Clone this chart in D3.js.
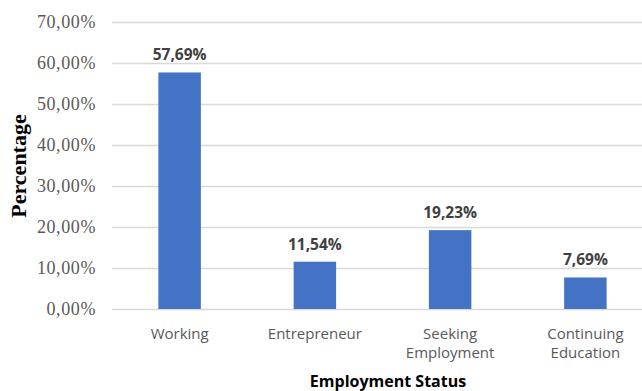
<!DOCTYPE html>
<html>
<head>
<meta charset="utf-8">
<script src="https://cdn.jsdelivr.net/npm/d3@7"></script>
<style>
  body { margin: 0; background: #fff; }
  svg { display: block; }
</style>
</head>
<body>
<div id="chart"></div>
<script>
  // data
  const categories = ["Working", "Entrepreneur", "Seeking Employment", "Continuing Education"];
  const values = [0.5769, 0.1154, 0.1923, 0.0769];
  const yTicks = [0, 0.1, 0.2, 0.3, 0.4, 0.5, 0.6, 0.7];

  const W = 642, H = 391;
  // plot area runs past the right edge, like the cropped original
  const margin = { top: 22, left: 112, bottom: 82 };
  const plotRight = 653;
  const plotBottom = H - margin.bottom; // 309

  const locale = d3.formatLocale({ decimal: ",", thousands: ".", grouping: [3], currency: ["", ""] });
  const pct = locale.format(".2%");

  const svg = d3.select("#chart").append("svg")
    .attr("width", W)
    .attr("height", H);

  const x = d3.scaleBand()
    .domain(categories)
    .range([margin.left, plotRight])
    .paddingInner(0.686)
    .paddingOuter(0.343);

  const y = d3.scaleLinear()
    .domain([0, 0.7])
    .range([plotBottom, margin.top]);

  // Y axis with gridlines
  const yAxisG = svg.append("g")
    .attr("transform", `translate(${margin.left},0)`)
    .call(d3.axisLeft(y).tickValues(yTicks).tickFormat(pct).tickSize(-(plotRight - margin.left)).tickPadding(16));

  yAxisG.select(".domain").remove();
  yAxisG.selectAll(".tick line").attr("stroke", "#d9d9d9").attr("stroke-width", 1.3);
  yAxisG.selectAll(".tick text")
    .attr("fill", "#595959")
    .style("font-family", "'Liberation Serif', 'Times New Roman', serif")
    .style("font-size", "18px")
    .style("letter-spacing", "0.6px");

  // bars
  svg.selectAll(".bar")
    .data(values)
    .enter()
    .append("rect")
    .attr("class", "bar")
    .attr("x", (d, i) => x(categories[i]))
    .attr("y", (d) => y(d))
    .attr("width", x.bandwidth())
    .attr("height", (d) => y(0) - y(d))
    .attr("fill", "#4472c4");

  // value labels
  svg.selectAll(".val")
    .data(values)
    .enter()
    .append("text")
    .attr("class", "val")
    .attr("x", (d, i) => x(categories[i]) + x.bandwidth() / 2)
    .attr("y", (d) => y(d) - 12)
    .attr("text-anchor", "middle")
    .attr("fill", "#404040")
    .style("font-family", "'Open Sans', sans-serif")
    .style("font-weight", "bold")
    .style("font-size", "15.5px")
    .text((d) => pct(d));

  // X axis labels (wrapped)
  const xAxisG = svg.append("g")
    .attr("transform", `translate(0,${plotBottom})`)
    .call(d3.axisBottom(x).tickSize(0).tickFormat(""));
  xAxisG.select(".domain").remove();

  xAxisG.selectAll(".tick").each(function (d) {
    const words = d.split(" ");
    const t = d3.select(this).append("text")
      .attr("text-anchor", "middle")
      .attr("fill", "#595959")
      .style("font-family", "'Open Sans', sans-serif")
      .style("font-size", "15px");
    words.forEach((w, i) => {
      t.append("tspan").attr("x", 0).attr("y", 30 + i * 19).text(w);
    });
  });

  // axis titles
  svg.append("text")
    .attr("x", 388)
    .attr("y", 387)
    .attr("text-anchor", "middle")
    .attr("fill", "#000")
    .style("font-family", "'Open Sans', sans-serif")
    .style("font-weight", "bold")
    .style("font-size", "16px")
    .text("Employment Status");

  svg.append("text")
    .attr("transform", "translate(26,166) rotate(-90)")
    .attr("text-anchor", "middle")
    .attr("fill", "#000")
    .style("font-family", "'Liberation Serif', 'Times New Roman', serif")
    .style("font-weight", "bold")
    .style("font-size", "22px")
    .text("Percentage");
</script>
</body>
</html>
